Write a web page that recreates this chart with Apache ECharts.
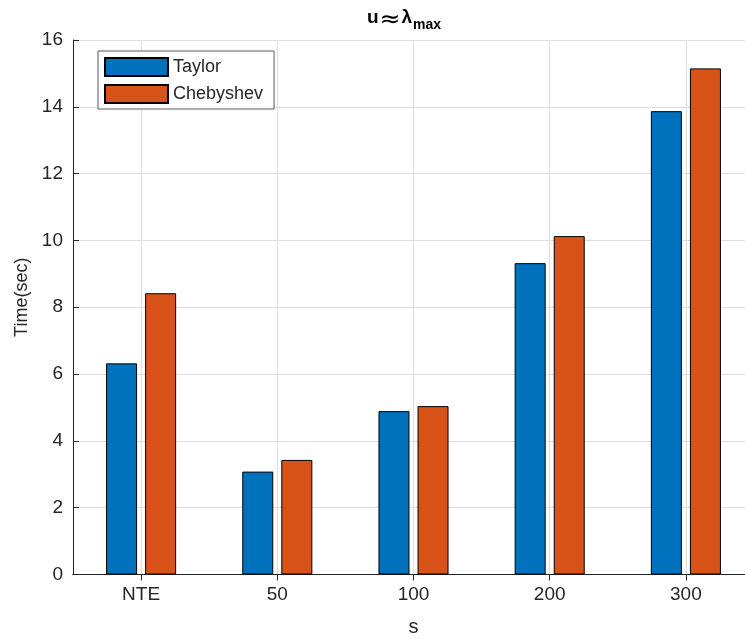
<!DOCTYPE html>
<html>
<head>
<meta charset="utf-8">
<script src="https://cdn.jsdelivr.net/npm/echarts@6/dist/echarts.min.js"></script>
<style>html,body{margin:0;padding:0;background:#fff}#c{width:745px;height:639px}</style>
</head>
<body>
<div id="c"></div>
<script>
const categories = ['NTE', '50', '100', '200', '300'];
const taylor = [6.32, 3.08, 4.89, 9.32, 13.87];
const chebyshev = [8.42, 3.43, 5.04, 10.13, 15.15];
const yTicks = [0, 2, 4, 6, 8, 10, 12, 14, 16];

const halfSteps = [];
for (let i = 0; i <= categories.length * 2; i++) halfSteps.push(String(i));
const centerOnly = (i) => i % 2 === 1;

const font = 'Liberation Sans, Helvetica, Arial, sans-serif';
const ink = '#262626';
const chart = echarts.init(document.getElementById('c'), null, {renderer: 'canvas'});
chart.setOption({
  animation: false,
  backgroundColor: '#fff',
  textStyle: {fontFamily: font},
  title: {
    text: '{a|u}{c|≈}{a|λ}{b|max}',
    left: 367, top: 8, padding: 0,
    textStyle: {
      rich: {
        a: {fontFamily: font, fontSize: 19, fontWeight: 'bold', color: '#000', lineHeight: 22, verticalAlign: 'top'},
        c: {fontFamily: 'DejaVu Sans', fontSize: 25, fontWeight: 'normal', color: '#000', lineHeight: 19, verticalAlign: 'top', padding: [0, 1, 0, 1]},
        b: {fontFamily: font, fontSize: 14, fontWeight: 'bold', color: '#000', lineHeight: 14, padding: [12, 0, 0, 1]}
      }
    }
  },
  legend: {
    orient: 'vertical',
    left: 98, top: 51,
    itemWidth: 63, itemHeight: 18, itemGap: 7,
    padding: [6, 11, 5, 6],
    backgroundColor: '#fff',
    borderColor: '#5a5a5a', borderWidth: 1,
    icon: 'rect',
    textStyle: {fontFamily: font, fontSize: 18, color: ink, padding: [0, 0, 0, 0]},
    data: ['Taylor', 'Chebyshev']
  },
  grid: {left: 73, right: -9, top: 40, bottom: 64.5, containLabel: false, outerBoundsMode: 'none'},
  xAxis: [
    {
      type: 'category', data: categories, position: 'bottom', boundaryGap: true,
      axisLine: {lineStyle: {color: ink, width: 1}},
      axisTick: {inside: true, alignWithLabel: true, length: 6, lineStyle: {color: ink}},
      axisLabel: {fontSize: 19, color: ink, margin: 11, fontFamily: font},
      splitLine: {show: false},
      name: 's', nameLocation: 'middle', nameGap: 43,
      nameTextStyle: {fontSize: 20, color: ink, fontFamily: font}
    },
    {
      type: 'category', data: halfSteps, position: 'top', boundaryGap: false,
      axisLine: {lineStyle: {color: ink, width: 1}},
      axisTick: {inside: true, length: 6, interval: centerOnly, lineStyle: {color: ink}},
      axisLabel: {show: false},
      splitLine: {show: true, interval: centerOnly, lineStyle: {color: '#dfdfdf', width: 1}}
    }
  ],
  yAxis: [
    {
      type: 'value', min: yTicks[0], max: yTicks[yTicks.length - 1], interval: 2, position: 'left',
      axisLine: {show: true, lineStyle: {color: ink, width: 1}},
      axisTick: {show: true, inside: true, length: 6, lineStyle: {color: ink}},
      axisLabel: {fontSize: 19, color: ink, margin: 10, fontFamily: font},
      splitLine: {show: true, lineStyle: {color: '#dfdfdf', width: 1}},
      name: 'Time(sec)', nameLocation: 'middle', nameRotate: 90, nameGap: 41,
      nameTextStyle: {fontSize: 18, color: ink, fontFamily: font, padding: [0, 0, 0, 20]}
    },
    {
      type: 'value', min: yTicks[0], max: yTicks[yTicks.length - 1], interval: 2, position: 'right',
      axisLine: {show: true, lineStyle: {color: ink, width: 1}},
      axisTick: {show: true, inside: true, length: 6, lineStyle: {color: ink}},
      axisLabel: {show: false},
      splitLine: {show: false}
    }
  ],
  series: [
    {
      name: 'Taylor', type: 'bar', data: taylor, xAxisIndex: 0, yAxisIndex: 0,
      barWidth: 31, barGap: '26%',
      itemStyle: {color: '#0072BD', borderColor: '#000', borderWidth: 1}
    },
    {
      name: 'Chebyshev', type: 'bar', data: chebyshev, xAxisIndex: 0, yAxisIndex: 0,
      barWidth: 31, barGap: '26%',
      itemStyle: {color: '#D95319', borderColor: '#000', borderWidth: 1}
    }
  ]
});
</script>
</body>
</html>
